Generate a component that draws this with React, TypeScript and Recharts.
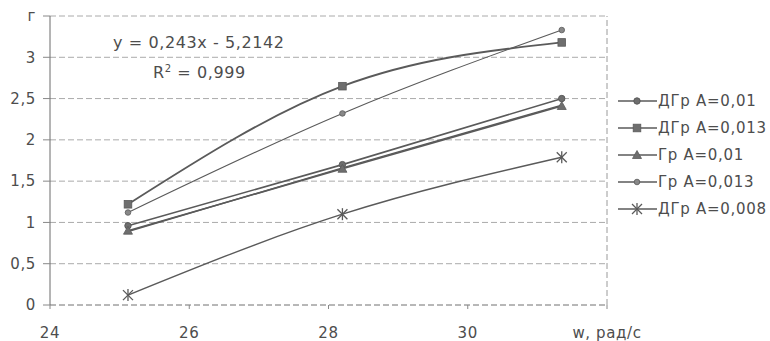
import React from "react";
import { LineChart, Line, XAxis, YAxis, CartesianGrid, ReferenceLine } from "recharts";

const omega = [25.12, 28.2, 31.35];
const dgr001 = [0.96, 1.7, 2.5];
const dgr0013 = [1.22, 2.65, 3.18];
const gr001 = [0.9, 1.65, 2.41];
const gr0013 = [1.12, 2.32, 3.33];
const dgr0008 = [0.12, 1.1, 1.79];
const trend = [0.89, 1.66, 2.42];

const yTicks = [0, 0.5, 1, 1.5, 2, 2.5, 3, 3.5];
const xTicks = [24, 26, 28, 30, 32];
const yTopLabel = "г";
const xEndLabel = "w, рад/с";
const equation = "y = 0,243x - 5,2142";

const data = omega.map((w, i) => ({
  w,
  dgr001: dgr001[i],
  dgr0013: dgr0013[i],
  gr001: gr001[i],
  gr0013: gr0013[i],
  dgr0008: dgr0008[i],
  trend: trend[i],
}));

const LINE = "#5a5a5a";
const MARK = "#6e6e6e";
const FONT = "'DejaVu Sans', 'Liberation Sans', Arial, sans-serif";
const TEXT = "#4d4d4d";

type Shape = "diamond" | "square" | "triangle" | "circle" | "star";

function marker(shape: Shape, cx: number, cy: number, key?: string | number) {
  switch (shape) {
    case "diamond":
      return <circle key={key} cx={cx} cy={cy} r={3.2} fill={MARK} stroke={LINE} strokeWidth={1} />;
    case "square":
      return <rect key={key} x={cx - 3.8} y={cy - 3.8} width={7.6} height={7.6} fill={MARK} stroke={LINE} strokeWidth={0.8} />;
    case "triangle":
      return (
        <polygon key={key} points={`${cx},${cy - 4.5} ${cx + 4.5},${cy + 3.5} ${cx - 4.5},${cy + 3.5}`} fill={MARK} stroke={LINE} strokeWidth={0.8} />
      );
    case "circle":
      return <circle key={key} cx={cx} cy={cy} r={2.8} fill="#888" stroke={LINE} strokeWidth={0.8} />;
    case "star":
      return (
        <g key={key} stroke={LINE} strokeWidth={1.3}>
          <line x1={cx - 5} y1={cy - 5} x2={cx + 5} y2={cy + 5} />
          <line x1={cx - 5} y1={cy + 5} x2={cx + 5} y2={cy - 5} />
          <line x1={cx} y1={cy - 6} x2={cx} y2={cy + 6} />
        </g>
      );
  }
}

const dotFor = (shape: Shape) => (props: any) => {
  const { cx, cy, index } = props;
  if (cx == null || cy == null) return <g key={index} />;
  return marker(shape, cx, cy, index);
};

const series: { key: string; name: string; shape: Shape; width: number }[] = [
  { key: "dgr001", name: "ДГр A=0,01", shape: "diamond", width: 1.6 },
  { key: "dgr0013", name: "ДГр A=0,013", shape: "square", width: 1.8 },
  { key: "gr001", name: "Гр A=0,01", shape: "triangle", width: 1.6 },
  { key: "gr0013", name: "Гр A=0,013", shape: "circle", width: 1.1 },
  { key: "dgr0008", name: "ДГр A=0,008", shape: "star", width: 1.4 },
];

const fmt = (v: number) => String(v).replace(".", ",");

export default function App() {
  return (
    <div style={{ position: "absolute", left: 0, top: 0, width: 770, height: 341, background: "#fff" }}>
      <LineChart
        width={770}
        height={341}
        data={data}
        margin={{ top: 16, right: 163, bottom: 0, left: 0 }}
      >
        <CartesianGrid vertical={false} stroke="#aaaaaa" strokeDasharray="6 3" />
        <XAxis
          dataKey="w"
          type="number"
          domain={[24, 32]}
          ticks={xTicks}
          interval={0}
          tickFormatter={(v: number) => (v === 32 ? xEndLabel : String(v))}
          height={36}
          tickSize={4}
          tickMargin={18}
          axisLine={{ stroke: "#9a9a9a", strokeDasharray: "6 3" }}
          tickLine={{ stroke: "#888" }}
          tick={{ fill: TEXT, fontSize: 15, fontFamily: FONT, letterSpacing: 0.6 }}
        />
        <YAxis
          type="number"
          domain={[0, 3.5]}
          ticks={yTicks}
          interval={0}
          tickFormatter={(v: number) => (v === 3.5 ? yTopLabel : fmt(v))}
          width={50}
          tickSize={7}
          tickMargin={7}
          axisLine={{ stroke: "#6a6a6a" }}
          tickLine={{ stroke: "#888" }}
          tick={{ fill: TEXT, fontSize: 15, fontFamily: FONT, letterSpacing: 0.6 }}
        />
        <ReferenceLine x={32} stroke="#9a9a9a" strokeDasharray="6 3" />
        <Line
          dataKey="trend"
          type="linear"
          stroke={LINE}
          strokeWidth={1.4}
          dot={false}
          legendType="none"
          isAnimationActive={false}
        />
        {series.map((s) => (
          <Line
            key={s.key}
            dataKey={s.key}
            name={s.name}
            type="monotone"
            stroke={LINE}
            strokeWidth={s.width}
            dot={dotFor(s.shape)}
            activeDot={false}
            isAnimationActive={false}
          />
        ))}
      </LineChart>
      <div
        style={{
          position: "absolute",
          left: 612,
          top: 87,
          width: 158,
          fontFamily: FONT,
          fontSize: 15,
          letterSpacing: 0.7,
          color: TEXT,
        }}
      >
        {series.map((s) => (
          <div key={s.key} style={{ height: 27, display: "flex", alignItems: "center" }}>
            <svg width={46} height={16} style={{ display: "block" }}>
              <line x1={6} y1={8} x2={45} y2={8} stroke={LINE} strokeWidth={1.4} />
              {marker(s.shape, 25, 8)}
            </svg>
            <span style={{ whiteSpace: "nowrap" }}>{s.name}</span>
          </div>
        ))}
      </div>
      <div
        style={{
          position: "absolute",
          left: 113,
          top: 33,
          fontFamily: FONT,
          fontSize: 16,
          letterSpacing: 0.6,
          color: TEXT,
          whiteSpace: "nowrap",
        }}
      >
        {equation}
      </div>
      <div
        style={{
          position: "absolute",
          left: 153,
          top: 63,
          fontFamily: FONT,
          fontSize: 16,
          letterSpacing: 0.6,
          color: TEXT,
          whiteSpace: "nowrap",
        }}
      >
        R<sup style={{ fontSize: 10 }}>2</sup> = 0,999
      </div>
    </div>
  );
}
